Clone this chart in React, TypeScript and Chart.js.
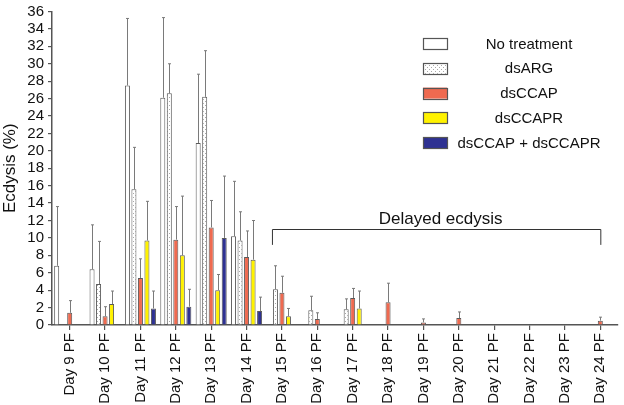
import React, { useEffect, useRef } from "react";
import { Chart, registerables } from "chart.js";

Chart.register(...registerables);

const categories = [
  "Day 9 PF", "Day 10 PF", "Day 11 PF", "Day 12 PF", "Day 13 PF", "Day 14 PF",
  "Day 15 PF", "Day 16 PF", "Day 17 PF", "Day 18 PF", "Day 19 PF", "Day 20 PF",
  "Day 21 PF", "Day 22 PF", "Day 23 PF", "Day 24 PF",
];

const seriesNames = ["No treatment", "dsARG", "dsCCAP", "dsCCAPR", "dsCCAP + dsCCAPR"];

const noTreatment = [6.8, 6.4, 27.5, 26.1, 20.9, 10.2, null, null, null, null, null, null, null, null, null, null];
const noTreatmentErr = [13.6, 11.5, 35.2, 35.3, 28.8, 16.5, null, null, null, null, null, null, null, null, null, null];

const dsARG = [null, 4.7, 15.6, 26.6, 26.2, 9.7, 4.1, 1.7, 1.8, null, null, null, null, null, null, null];
const dsARGErr = [null, 9.6, 20.4, 30.0, 31.5, 13.0, 6.8, 3.3, 3.0, null, null, null, null, null, null, null];

const dsCCAP = [1.4, 1.0, 5.4, 9.8, 11.2, 7.8, 3.7, 0.7, 3.1, 2.6, 0.3, 0.8, null, null, null, 0.5];
const dsCCAPErr = [2.8, 2.1, 7.6, 13.6, 14.3, 10.8, 5.6, 1.4, 4.2, 4.8, 0.7, 1.5, null, null, null, 0.9];

const dsCCAPR = [null, 2.4, 9.7, 8.0, 4.0, 7.5, 1.0, null, 1.9, null, null, null, null, null, null, null];
const dsCCAPRErr = [null, 3.9, 14.2, 14.8, 5.8, 12.0, 1.9, null, 3.9, null, null, null, null, null, null, null];

const dsBoth = [null, null, 1.9, 2.1, 10.0, 1.6, null, null, null, null, null, null, null, null, null, null];
const dsBothErr = [null, null, 3.9, 4.1, 17.1, 3.2, null, null, null, null, null, null, null, null, null, null];

const yTicks = { min: 0, max: 36, step: 2 };

const annotationText = "Delayed ecdysis";
const bracketFrom = "Day 15 PF";
const bracketTo = "Day 24 PF";
const bracketLevel = 11.0;
const bracketDrop = 9.2;

const FONT = "Arial, 'Liberation Sans', Helvetica, sans-serif";

function makeDots(): CanvasPattern | string {
  const c = document.createElement("canvas");
  c.width = 4;
  c.height = 4;
  const g = c.getContext("2d");
  if (!g) return "#fff";
  g.fillStyle = "#ffffff";
  g.fillRect(0, 0, 4, 4);
  g.fillStyle = "#a8a8a8";
  g.fillRect(1, 1, 1, 1);
  g.fillRect(3, 3, 1, 1);
  const p = g.createPattern(c, "repeat");
  return p || "#fff";
}

export default function App() {
  const ref = useRef<HTMLCanvasElement | null>(null);

  useEffect(() => {
    if (!ref.current) return;
    const dots = makeDots();
    const fills: any[] = ["#ffffff", dots, "#EF6A50", "#FFF200", "#2E3192"];
    const values = [noTreatment, dsARG, dsCCAP, dsCCAPR, dsBoth];
    const errs = [noTreatmentErr, dsARGErr, dsCCAPErr, dsCCAPRErr, dsBothErr];

    const errorBars = {
      id: "errorBars",
      afterDatasetsDraw(chart: any) {
        const ctx = chart.ctx;
        const ys = chart.scales.y;
        ctx.save();
        ctx.strokeStyle = "#7a7a7a";
        ctx.lineWidth = 1;
        errs.forEach((arr, i) => {
          const meta = chart.getDatasetMeta(i);
          meta.data.forEach((el: any, j: number) => {
            const e = arr[j];
            const v = values[i][j];
            if (e == null || v == null) return;
            const x = Math.round(el.x) + 0.5;
            const yTop = ys.getPixelForValue(e);
            ctx.beginPath();
            ctx.moveTo(x, el.y);
            ctx.lineTo(x, yTop);
            ctx.moveTo(x - 1.5, yTop);
            ctx.lineTo(x + 1.5, yTop);
            ctx.stroke();
          });
        });
        ctx.restore();
      },
    };

    const extras = {
      id: "extras",
      afterDraw(chart: any) {
        const ctx = chart.ctx;
        const xs = chart.scales.x;
        const ys = chart.scales.y;
        ctx.save();
        // bracket
        const x1 = xs.getPixelForValue(categories.indexOf(bracketFrom)) - 9.5;
        const x2 = xs.getPixelForValue(categories.indexOf(bracketTo)) + 0.5;
        const yL = Math.round(ys.getPixelForValue(bracketLevel)) + 0.5;
        const yD = ys.getPixelForValue(bracketDrop);
        ctx.strokeStyle = "#333";
        ctx.lineWidth = 1;
        ctx.beginPath();
        ctx.moveTo(x1, yD);
        ctx.lineTo(x1, yL);
        ctx.lineTo(x2, yL);
        ctx.lineTo(x2, yD);
        ctx.stroke();
        ctx.fillStyle = "#111";
        ctx.font = `17px ${FONT}`;
        ctx.textAlign = "center";
        ctx.textBaseline = "alphabetic";
        ctx.fillText(annotationText, (x1 + x2) / 2 + 4, yL - 6);

        // legend
        ctx.font = `15px ${FONT}`;
        ctx.textBaseline = "middle";
        seriesNames.forEach((name, i) => {
          const cy = 43.5 + i * 24.8;
          ctx.fillStyle = fills[i];
          ctx.fillRect(423, cy - 5.5, 24, 11);
          ctx.strokeStyle = "#555";
          ctx.lineWidth = 1.2;
          ctx.strokeRect(423.5, Math.round(cy - 5.5) + 0.5, 24, 11);
          ctx.fillStyle = "#111";
          ctx.fillText(name, 529, cy + 1);
        });
        ctx.restore();
      },
    };

    const chart = new Chart(ref.current, {
      type: "bar",
      data: {
        labels: categories,
        datasets: values.map((d, i) => ({
          label: seriesNames[i],
          data: d,
          backgroundColor: fills[i],
          borderColor: "#5a5a5a",
          borderWidth: 1,
          barPercentage: 0.77,
          categoryPercentage: 0.92,
        })),
      },
      options: {
        animation: false,
        responsive: false,
        layout: { padding: { top: 11, right: 6, left: 0, bottom: 0 } },
        plugins: { legend: { display: false }, tooltip: { enabled: false } },
        scales: {
          x: {
            grid: { offset: false, drawOnChartArea: false, tickLength: 5, color: "#555", lineWidth: 1.2 },
            border: { color: "#555", width: 1.5 },
            ticks: {
              maxRotation: 90,
              minRotation: 90,
              autoSkip: false,
              padding: 3,
              color: "#111",
              font: { family: FONT, size: 15 },
            },
            afterFit(scale: any) {
              scale.height = 80;
            },
          },
          y: {
            min: yTicks.min,
            max: yTicks.max,
            grid: { drawOnChartArea: false, tickLength: 4, color: "#555", lineWidth: 1.2 },
            border: { color: "#555", width: 1.5 },
            ticks: {
              stepSize: yTicks.step,
              autoSkip: false,
              maxTicksLimit: 100,
              padding: 4,
              color: "#111",
              font: { family: FONT, size: 15, lineHeight: 1 },
            },
            title: {
              display: true,
              text: "Ecdysis (%)",
              color: "#111",
              font: { family: FONT, size: 17 },
              padding: { top: 0, bottom: 0 },
            },
            afterFit(scale: any) {
              scale.width = 52;
            },
          },
        },
      },
      plugins: [errorBars, extras],
    });
    return () => chart.destroy();
  }, []);

  return (
    <div style={{ position: "fixed", left: 0, top: 0, width: 624, height: 405, background: "#fff" }}>
      <canvas ref={ref} width={624} height={405} />
    </div>
  );
}
